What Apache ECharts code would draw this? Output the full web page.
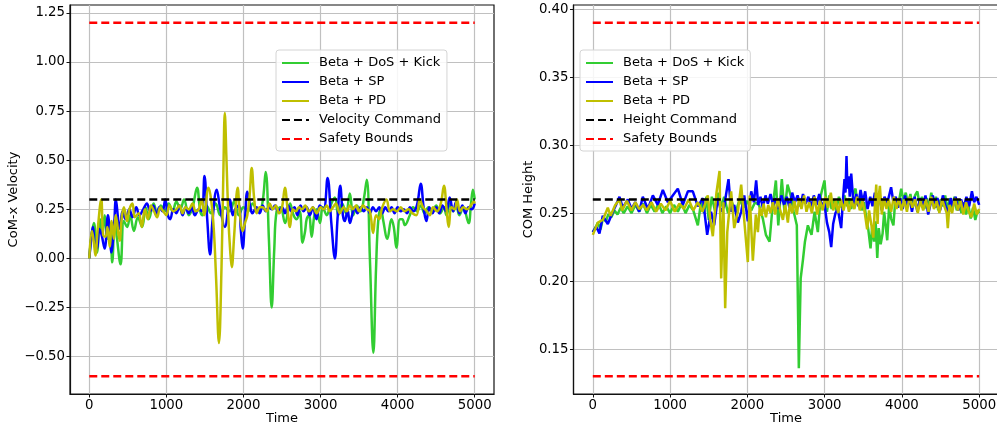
<!DOCTYPE html>
<html>
<head>
<meta charset="utf-8">
<script src="https://cdn.jsdelivr.net/npm/echarts@6/dist/echarts.min.js"></script>
<style>
  html, body { margin: 0; padding: 0; background: #fff; }
  #chart { width: 997px; height: 427px; }
</style>
</head>
<body>
<div id="chart"></div>
<script>
// ---- Tick values ----
const timeTicks = [0, 1000, 2000, 3000, 4000, 5000];
const velTicks = [-0.5, -0.25, 0, 0.25, 0.5, 0.75, 1.0, 1.25];
const heightTicks = [0.15, 0.2, 0.25, 0.3, 0.35, 0.4];

// ---- Series names ----
const nameDoS = 'Beta + DoS + Kick';
const nameSP = 'Beta + SP';
const namePD = 'Beta + PD';
const nameVelCmd = 'Velocity Command';
const nameHeightCmd = 'Height Command';
const nameBounds = 'Safety Bounds';

// ---- Reference levels ----
const velCommand = 0.3;
const velBounds = [1.2, -0.6];
const heightCommand = 0.26;
const heightBounds = [0.39, 0.13];
const timeSpan = [0, 5000];

// ---- CoM-x velocity, [time, value] ----
const velDoS = [[0,0],[30,0.12],[60,0.18],[100,0.03],[140,0.2],[170,0.12],[200,0.22],[240,0.1],[270,0.15],[298,-0.02],[330,0.2],[360,0.1],[406,-0.03],[449,0.19],[492,0.16],[530,0.22],[579,0.14],[630,0.21],[686,0.16],[730,0.26],[772,0.2],[835,0.28],[880,0.23],[930,0.27],[980,0.24],[1030,0.28],[1080,0.24],[1130,0.29],[1180,0.25],[1230,0.3],[1290,0.22],[1340,0.26],[1398,0.36],[1440,0.24],[1470,0.22],[1520,0.27],[1580,0.23],[1640,0.28],[1700,0.22],[1760,0.26],[1820,0.24],[1880,0.29],[1940,0.22],[2000,0.26],[2060,0.24],[2120,0.28],[2180,0.24],[2240,0.27],[2288,0.44],[2330,0.1],[2366,-0.25],[2400,0.05],[2430,0.24],[2480,0.26],[2540,0.18],[2604,0.28],[2650,0.22],[2690,0.2],[2730,0.24],[2767,0.08],[2800,0.14],[2820,0.2],[2850,0.22],[2884,0.11],[2920,0.22],[2949,0.25],[2992,0.18],[3030,0.26],[3080,0.22],[3120,0.26],[3186,0.31],[3230,0.22],[3280,0.28],[3330,0.23],[3380,0.33],[3424,0.22],[3470,0.27],[3520,0.24],[3560,0.3],[3600,0.4],[3640,0.0],[3685,-0.48],[3720,-0.05],[3750,0.2],[3785,0.25],[3810,0.2],[3867,0.1],[3919,0.2],[3950,0.16],[3984,0.055],[4030,0.2],[4060,0.2],[4093,0.17],[4158,0.22],[4200,0.26],[4250,0.24],[4300,0.27],[4350,0.23],[4400,0.26],[4450,0.24],[4500,0.27],[4550,0.23],[4600,0.26],[4633,0.22],[4680,0.28],[4720,0.24],[4760,0.27],[4800,0.22],[4850,0.26],[4921,0.18],[4950,0.27],[4977,0.35],[5000,0.3]];

const velSP = [[0,0],[25,0.1],[47,0.16],[75,0.06],[100,0.05],[130,0.15],[160,0.12],[199,0.05],[242,0.22],[270,0.1],[285,0.03],[320,0.15],[345,0.3],[380,0.18],[400,0.15],[430,0.24],[470,0.2],[520,0.25],[560,0.21],[610,0.26],[650,0.22],[700,0.25],[747,0.28],[790,0.24],[830,0.27],[870,0.22],[910,0.26],[950,0.24],[985,0.3],[1020,0.22],[1050,0.2],[1090,0.25],[1130,0.23],[1170,0.27],[1210,0.22],[1250,0.26],[1290,0.23],[1330,0.26],[1370,0.22],[1420,0.25],[1460,0.24],[1494,0.42],[1530,0.2],[1567,0.02],[1600,0.2],[1653,0.35],[1700,0.25],[1758,0.16],[1826,0.3],[1860,0.22],[1891,0.25],[1940,0.27],[1965,0.15],[1990,0.05],[2020,0.2],[2050,0.34],[2090,0.26],[2115,0.23],[2170,0.26],[2210,0.23],[2250,0.27],[2290,0.24],[2330,0.26],[2370,0.25],[2410,0.27],[2450,0.24],[2500,0.26],[2540,0.23],[2580,0.27],[2620,0.24],[2660,0.26],[2700,0.22],[2740,0.27],[2780,0.24],[2820,0.26],[2860,0.22],[2900,0.26],[2948,0.2],[2990,0.27],[3040,0.25],[3091,0.41],[3140,0.18],[3186,0.0],[3220,0.2],[3255,0.37],[3290,0.22],[3316,0.19],[3350,0.25],[3380,0.18],[3410,0.22],[3440,0.26],[3480,0.23],[3520,0.26],[3560,0.24],[3600,0.26],[3640,0.23],[3680,0.26],[3720,0.24],[3760,0.26],[3800,0.23],[3840,0.26],[3880,0.24],[3920,0.26],[3960,0.23],[4000,0.26],[4040,0.24],[4080,0.25],[4120,0.23],[4160,0.26],[4200,0.24],[4250,0.27],[4299,0.38],[4340,0.25],[4373,0.19],[4410,0.26],[4450,0.23],[4500,0.26],[4540,0.23],[4580,0.27],[4630,0.24],[4675,0.31],[4720,0.24],[4760,0.29],[4800,0.23],[4840,0.27],[4880,0.23],[4920,0.26],[4960,0.25],[5000,0.28]];

const velPD = [[0,0],[35,0.14],[60,0.08],[80,0.015],[110,0.15],[155,0.3],[180,0.12],[210,0.11],[235,0.16],[265,0.06],[290,0.19],[320,0.1],[345,0.22],[393,0.09],[420,0.2],[449,0.26],[490,0.19],[520,0.25],[560,0.28],[590,0.21],[640,0.23],[682,0.16],[720,0.25],[760,0.2],[800,0.27],[840,0.24],[880,0.21],[920,0.26],[960,0.24],[1000,0.22],[1040,0.27],[1090,0.24],[1130,0.25],[1170,0.27],[1210,0.23],[1250,0.26],[1290,0.25],[1340,0.28],[1380,0.24],[1420,0.25],[1460,0.3],[1490,0.22],[1546,0.36],[1580,0.3],[1615,0.15],[1645,-0.1],[1682,-0.43],[1715,-0.05],[1740,0.45],[1758,0.74],[1780,0.5],[1805,0.2],[1826,0.05],[1848,-0.045],[1880,0.12],[1925,0.36],[1955,0.22],[1990,0.14],[2020,0.18],[2050,0.22],[2080,0.32],[2107,0.46],[2140,0.3],[2172,0.23],[2210,0.26],[2250,0.26],[2300,0.24],[2340,0.28],[2380,0.25],[2420,0.27],[2460,0.23],[2500,0.26],[2538,0.36],[2570,0.26],[2603,0.16],[2640,0.25],[2680,0.24],[2720,0.26],[2760,0.25],[2800,0.27],[2850,0.24],[2900,0.26],[2950,0.23],[3000,0.26],[3040,0.25],[3080,0.27],[3120,0.24],[3160,0.26],[3200,0.28],[3250,0.23],[3300,0.26],[3340,0.24],[3380,0.27],[3420,0.25],[3460,0.27],[3500,0.24],[3550,0.27],[3600,0.25],[3640,0.24],[3682,0.13],[3720,0.22],[3760,0.2],[3800,0.26],[3855,0.3],[3900,0.24],[3940,0.25],[3990,0.24],[4040,0.26],[4090,0.24],[4140,0.25],[4190,0.23],[4244,0.22],[4287,0.3],[4330,0.26],[4380,0.24],[4417,0.22],[4460,0.26],[4510,0.24],[4560,0.28],[4601,0.37],[4635,0.25],[4662,0.16],[4700,0.26],[4740,0.25],[4770,0.3],[4810,0.24],[4850,0.26],[4900,0.25],[4950,0.27],[4990,0.29],[5000,0.28]];

// ---- CoM height, [time, value] ----
const heightDoS = [[0,0.236],[40,0.240],[65,0.243],[100,0.238],[130,0.246],[170,0.244],[200,0.249],[240,0.247],[280,0.252],[320,0.249],[360,0.254],[400,0.250],[450,0.255],[500,0.250],[550,0.256],[600,0.251],[650,0.257],[700,0.250],[750,0.256],[800,0.251],[850,0.257],[900,0.250],[950,0.255],[1000,0.250],[1050,0.256],[1100,0.251],[1150,0.257],[1200,0.250],[1250,0.256],[1300,0.252],[1359,0.241],[1400,0.258],[1440,0.250],[1470,0.262],[1500,0.245],[1540,0.262],[1580,0.252],[1620,0.265],[1660,0.255],[1700,0.262],[1750,0.250],[1800,0.258],[1850,0.251],[1900,0.260],[1950,0.254],[2000,0.259],[2050,0.252],[2100,0.258],[2150,0.256],[2200,0.246],[2240,0.234],[2287,0.229],[2320,0.251],[2369,0.274],[2400,0.241],[2446,0.275],[2480,0.251],[2520,0.271],[2560,0.263],[2600,0.251],[2640,0.241],[2666,0.136],[2690,0.202],[2720,0.216],[2745,0.229],[2783,0.241],[2830,0.234],[2870,0.251],[2912,0.236],[2950,0.263],[2998,0.274],[3030,0.251],[3060,0.263],[3090,0.253],[3120,0.260],[3150,0.252],[3185,0.262],[3220,0.254],[3255,0.263],[3290,0.255],[3320,0.261],[3345,0.253],[3375,0.265],[3400,0.268],[3425,0.256],[3450,0.262],[3480,0.252],[3510,0.258],[3540,0.246],[3565,0.238],[3594,0.224],[3615,0.240],[3640,0.229],[3660,0.244],[3681,0.217],[3700,0.239],[3725,0.227],[3750,0.235],[3770,0.251],[3790,0.241],[3810,0.230],[3835,0.256],[3860,0.246],[3890,0.241],[3915,0.260],[3950,0.255],[3991,0.268],[4020,0.259],[4050,0.265],[4080,0.256],[4110,0.264],[4140,0.254],[4170,0.263],[4200,0.266],[4230,0.256],[4260,0.262],[4290,0.253],[4320,0.261],[4350,0.254],[4380,0.265],[4410,0.256],[4440,0.262],[4470,0.252],[4500,0.260],[4530,0.255],[4560,0.263],[4590,0.252],[4620,0.261],[4650,0.254],[4680,0.262],[4710,0.252],[4740,0.260],[4770,0.250],[4800,0.258],[4830,0.249],[4860,0.256],[4890,0.246],[4920,0.254],[4950,0.245],[4980,0.252],[5000,0.250]];

const heightSP = [[0,0.236],[45,0.240],[86,0.235],[129,0.248],[194,0.242],[259,0.251],[300,0.256],[345,0.262],[388,0.254],[453,0.260],[500,0.253],[550,0.258],[600,0.251],[647,0.262],[712,0.253],[777,0.263],[840,0.256],[906,0.267],[971,0.258],[1035,0.263],[1100,0.268],[1165,0.256],[1230,0.266],[1294,0.266],[1359,0.255],[1424,0.261],[1480,0.234],[1530,0.251],[1570,0.241],[1618,0.261],[1660,0.251],[1700,0.255],[1756,0.275],[1790,0.251],[1830,0.256],[1877,0.243],[1920,0.251],[1960,0.263],[2006,0.244],[2050,0.266],[2085,0.258],[2114,0.274],[2140,0.256],[2170,0.262],[2200,0.254],[2235,0.263],[2265,0.257],[2300,0.264],[2335,0.255],[2370,0.261],[2400,0.253],[2440,0.263],[2475,0.256],[2510,0.262],[2545,0.254],[2580,0.265],[2615,0.258],[2650,0.263],[2685,0.255],[2720,0.264],[2755,0.257],[2790,0.262],[2825,0.254],[2860,0.263],[2895,0.256],[2930,0.264],[2965,0.255],[2995,0.258],[3030,0.243],[3060,0.236],[3085,0.225],[3110,0.242],[3140,0.250],[3171,0.253],[3195,0.245],[3214,0.239],[3240,0.262],[3257,0.275],[3270,0.265],[3283,0.292],[3295,0.268],[3310,0.277],[3325,0.262],[3344,0.279],[3365,0.263],[3385,0.256],[3410,0.264],[3435,0.255],[3465,0.267],[3495,0.258],[3525,0.266],[3555,0.253],[3590,0.262],[3620,0.255],[3650,0.265],[3680,0.256],[3710,0.262],[3740,0.252],[3775,0.262],[3810,0.257],[3860,0.269],[3890,0.258],[3920,0.262],[3950,0.254],[3980,0.261],[4010,0.253],[4040,0.263],[4070,0.255],[4100,0.261],[4130,0.251],[4165,0.262],[4200,0.251],[4235,0.261],[4270,0.254],[4305,0.263],[4340,0.249],[4375,0.258],[4400,0.263],[4430,0.254],[4460,0.261],[4495,0.252],[4530,0.263],[4565,0.255],[4600,0.250],[4630,0.261],[4660,0.255],[4695,0.262],[4730,0.252],[4765,0.260],[4800,0.254],[4835,0.262],[4870,0.255],[4906,0.266],[4935,0.258],[4965,0.262],[5000,0.256]];

const heightPD = [[0,0.234],[65,0.243],[129,0.245],[194,0.254],[230,0.248],[290,0.256],[345,0.260],[380,0.252],[440,0.259],[500,0.252],[550,0.258],[600,0.253],[650,0.256],[700,0.252],[760,0.258],[820,0.251],[880,0.257],[940,0.252],[1000,0.259],[1060,0.251],[1120,0.257],[1180,0.253],[1240,0.260],[1300,0.252],[1360,0.258],[1420,0.251],[1488,0.263],[1520,0.245],[1553,0.233],[1600,0.265],[1640,0.281],[1661,0.202],[1690,0.258],[1713,0.180],[1740,0.236],[1790,0.266],[1830,0.239],[1877,0.251],[1920,0.271],[1950,0.251],[2006,0.214],[2030,0.263],[2071,0.215],[2110,0.249],[2136,0.236],[2160,0.254],[2185,0.248],[2210,0.257],[2240,0.247],[2270,0.256],[2300,0.250],[2330,0.258],[2360,0.249],[2394,0.261],[2425,0.252],[2460,0.245],[2490,0.256],[2524,0.243],[2550,0.257],[2580,0.250],[2610,0.259],[2640,0.249],[2670,0.261],[2700,0.253],[2735,0.263],[2765,0.251],[2800,0.258],[2835,0.250],[2870,0.262],[2905,0.249],[2940,0.259],[2975,0.252],[3010,0.262],[3045,0.254],[3080,0.265],[3110,0.252],[3145,0.259],[3175,0.250],[3210,0.260],[3245,0.252],[3280,0.261],[3315,0.251],[3350,0.259],[3385,0.253],[3420,0.262],[3455,0.252],[3490,0.259],[3520,0.250],[3550,0.238],[3575,0.252],[3600,0.243],[3630,0.232],[3650,0.255],[3668,0.271],[3685,0.242],[3700,0.262],[3715,0.270],[3740,0.249],[3770,0.261],[3800,0.253],[3830,0.260],[3860,0.251],[3895,0.262],[3930,0.253],[3960,0.261],[3995,0.252],[4030,0.260],[4065,0.251],[4100,0.262],[4135,0.254],[4170,0.260],[4205,0.250],[4240,0.259],[4275,0.252],[4310,0.260],[4345,0.251],[4380,0.262],[4415,0.253],[4450,0.259],[4485,0.250],[4520,0.260],[4555,0.254],[4580,0.250],[4594,0.239],[4615,0.256],[4650,0.250],[4685,0.261],[4724,0.252],[4760,0.259],[4795,0.249],[4830,0.258],[4865,0.251],[4900,0.247],[4935,0.257],[4970,0.249],[5000,0.253]];

// ---- Styling ----
const FONT = 'DejaVu Sans';
const C_DOS = '#32cd32';
const C_SP = '#0000ff';
const C_PD = '#bfbf00';
const C_CMD = '#000000';
const C_BOUND = '#ff0000';
const LW = 2.5;
const DASH = [8, 4];

function tickText(v) {
  const s = Math.abs(v).toFixed(2);
  return v < -1e-9 ? '\u2212' + s : s;
}

function xAxisFor(gridIndex) {
  return {
    type: 'value', gridIndex, min: -250, max: 5250,
    name: 'Time', nameLocation: 'middle', nameGap: 18,
    nameMoveOverlap: false,
    nameTextStyle: { fontFamily: FONT, fontSize: 13, color: '#000' },
    axisLine: { show: true, onZero: false, lineStyle: { color: '#111', width: 1.2 } },
    axisTick: { show: true, length: 3.5, customValues: timeTicks, lineStyle: { color: '#111', width: 1 } },
    axisLabel: { customValues: timeTicks, margin: 5, fontFamily: FONT, fontSize: 13.3, color: '#000',
                 formatter: v => String(Math.round(v)) },
    splitLine: { show: true, lineStyle: { color: '#c0c0c0', width: 1.2 } }
  };
}

function yAxisFor(gridIndex, min, max, ticks, name, gap) {
  return {
    type: 'value', gridIndex, min, max,
    name, nameLocation: 'middle', nameGap: gap,
    nameTextStyle: { fontFamily: FONT, fontSize: 13, color: '#000' },
    axisLine: { show: true, onZero: false, lineStyle: { color: '#111', width: 1.2 } },
    axisTick: { show: true, length: 3.5, customValues: ticks, lineStyle: { color: '#111', width: 1 } },
    axisLabel: { customValues: ticks, margin: 5, fontFamily: FONT, fontSize: 13.3, color: '#000',
                 formatter: tickText },
    splitLine: { show: true, lineStyle: { color: '#c0c0c0', width: 1.2 } }
  };
}

function curve(name, data, color, idx, smooth) {
  return {
    type: 'line', name, data, xAxisIndex: idx, yAxisIndex: idx,
    symbol: 'none', smooth, silent: true,
    lineStyle: { color, width: LW }, itemStyle: { color }
  };
}

function level(name, value, color, idx) {
  return {
    type: 'line', name, xAxisIndex: idx, yAxisIndex: idx,
    data: [[timeSpan[0], value], [timeSpan[1], value]],
    symbol: 'none', silent: true,
    lineStyle: { color, width: LW, type: DASH }, itemStyle: { color }
  };
}

function legendFor(left, names) {
  return {
    data: names, orient: 'vertical', left, top: 50,
    itemWidth: 27, itemHeight: 14, itemGap: 5,
    padding: [6, 6, 5, 5],
    backgroundColor: 'rgba(255,255,255,0.85)',
    borderColor: '#d4d4d4', borderWidth: 1, borderRadius: 3,
    selectedMode: false,
    // line-only keys: hide the marker glyph
    itemStyle: { color: 'rgba(0,0,0,0)', borderWidth: 0, opacity: 0 },
    textStyle: { fontFamily: FONT, fontSize: 13, color: '#000', padding: [0, 0, 0, 5], lineHeight: 14 }
  };
}

const chart = echarts.init(document.getElementById('chart'), null, { renderer: 'canvas' });
chart.setOption({
  animation: false,
  backgroundColor: '#fff',
  grid: [
    { left: 70, top: 5, width: 424, height: 389, outerBoundsMode: 'none', containLabel: false,
      show: true, borderColor: '#111', borderWidth: 1.2, backgroundColor: 'transparent' },
    { left: 573.5, top: 5, width: 425, height: 389, outerBoundsMode: 'none', containLabel: false,
      show: true, borderColor: '#111', borderWidth: 1.2, backgroundColor: 'transparent' }
  ],
  xAxis: [xAxisFor(0), xAxisFor(1)],
  yAxis: [
    yAxisFor(0, -0.69, 1.29, velTicks, 'CoM-x Velocity', 48),
    yAxisFor(1, 0.117, 0.403, heightTicks, 'COM Height', 35)
  ],
  legend: [
    legendFor(276, [nameDoS, nameSP, namePD, nameVelCmd, nameBounds]),
    legendFor(580, [nameDoS, nameSP, namePD, nameHeightCmd, nameBounds])
  ],
  series: [
    curve(nameDoS, velDoS, C_DOS, 0, 0.4),
    curve(nameSP, velSP, C_SP, 0, 0.4),
    curve(namePD, velPD, C_PD, 0, 0.4),
    level(nameVelCmd, velCommand, C_CMD, 0),
    level(nameBounds, velBounds[0], C_BOUND, 0),
    level(nameBounds, velBounds[1], C_BOUND, 0),
    curve(nameDoS, heightDoS, C_DOS, 1, false),
    curve(nameSP, heightSP, C_SP, 1, false),
    curve(namePD, heightPD, C_PD, 1, false),
    level(nameHeightCmd, heightCommand, C_CMD, 1),
    level(nameBounds, heightBounds[0], C_BOUND, 1),
    level(nameBounds, heightBounds[1], C_BOUND, 1)
  ]
});
</script>
</body>
</html>
